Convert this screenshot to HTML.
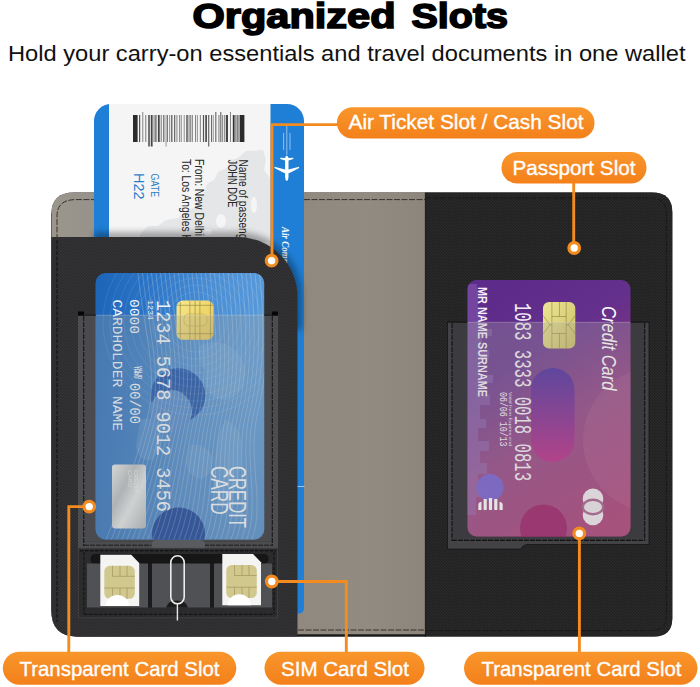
<!DOCTYPE html>
<html>
<head>
<meta charset="utf-8">
<title>Organized Slots</title>
<style>
html,body{margin:0;padding:0;background:#fff;}
body{width:700px;height:687px;overflow:hidden;position:relative;font-family:"Liberation Sans",sans-serif;}
svg{position:absolute;left:0;top:0;display:block;}
text{font-family:"Liberation Sans",sans-serif;}
.mono{font-family:"Liberation Mono",monospace;}
</style>
</head>
<body>
<svg width="700" height="687" viewBox="0 0 700 687">
<defs>
  <linearGradient id="gPill" x1="0" y1="0" x2="0" y2="1">
    <stop offset="0" stop-color="#f8962c"/><stop offset="1" stop-color="#f4801a"/>
  </linearGradient>
  <linearGradient id="gBlueCard" x1="0" y1="0" x2="1" y2="0.25">
    <stop offset="0" stop-color="#1c64b8"/><stop offset="0.3" stop-color="#2a74c6"/><stop offset="0.65" stop-color="#4a8ed4"/><stop offset="1" stop-color="#5a9cdc"/>
  </linearGradient>
  <linearGradient id="gBlueDark" x1="0" y1="0" x2="0" y2="1">
    <stop offset="0" stop-color="#1d55a0" stop-opacity="0"/><stop offset="0.4" stop-color="#1d55a0" stop-opacity="0.08"/><stop offset="1" stop-color="#1d55a0" stop-opacity="0.32"/>
  </linearGradient>
  <linearGradient id="gPurple" x1="0.3" y1="0" x2="0.7" y2="1">
    <stop offset="0" stop-color="#5d2b8a"/><stop offset="0.28" stop-color="#64308c"/><stop offset="0.6" stop-color="#8f367e"/><stop offset="1" stop-color="#a52e6e"/>
  </linearGradient>
  <linearGradient id="gPillShape" x1="0" y1="0" x2="0" y2="1">
    <stop offset="0" stop-color="#3f1f9c"/><stop offset="1" stop-color="#b81a80"/>
  </linearGradient>
  <linearGradient id="gChip" x1="0" y1="0" x2="1" y2="1">
    <stop offset="0" stop-color="#f7e78c"/><stop offset="0.5" stop-color="#efd76c"/><stop offset="1" stop-color="#e2c453"/>
  </linearGradient>
  <linearGradient id="gChip2" x1="0" y1="0" x2="1" y2="1">
    <stop offset="0" stop-color="#ece594"/><stop offset="0.5" stop-color="#ddd27c"/><stop offset="1" stop-color="#c9bb62"/>
  </linearGradient>
  <linearGradient id="gHolo" x1="0" y1="0" x2="1" y2="1">
    <stop offset="0" stop-color="#e9ebed"/><stop offset="0.35" stop-color="#b4b9bf"/><stop offset="0.6" stop-color="#e1e4e7"/><stop offset="1" stop-color="#a9afb6"/>
  </linearGradient>
  <linearGradient id="gShadow" x1="0" y1="0" x2="0" y2="1">
    <stop offset="0" stop-color="#000" stop-opacity="0"/><stop offset="1" stop-color="#000" stop-opacity="0.35"/>
  </linearGradient>
  <linearGradient id="gLining" x1="0" y1="0" x2="1" y2="0">
    <stop offset="0" stop-color="#9b968c"/><stop offset="0.12" stop-color="#97928a"/><stop offset="0.68" stop-color="#8f897f"/><stop offset="0.85" stop-color="#918b81"/><stop offset="1" stop-color="#8b857b"/>
  </linearGradient>
  <pattern id="saff" width="3" height="3" patternUnits="userSpaceOnUse">
    <rect width="3" height="3" fill="#252526"/>
    <path d="M-0.5 3.5 L3.5 -0.5" stroke="#303031" stroke-width="0.7"/>
    <path d="M-0.5 -0.5 L3.5 3.5" stroke="#1c1c1d" stroke-width="0.6"/>
  </pattern>
  <pattern id="saffL" width="3" height="3" patternUnits="userSpaceOnUse">
    <rect width="3" height="3" fill="#303032"/>
    <path d="M-0.5 3.5 L3.5 -0.5" stroke="#3a3a3c" stroke-width="0.7"/>
    <path d="M-0.5 -0.5 L3.5 3.5" stroke="#262628" stroke-width="0.6"/>
  </pattern>
  <clipPath id="clipWallet"><path d="M74 192.6 H652 Q672.3 192.6 672.3 212.6 V618 Q672.3 636.5 654 636.5 H77 Q51.3 636.5 51.3 610 V214.6 Q51.3 192.6 74 192.6 Z"/></clipPath>
  <clipPath id="clipBlue"><rect x="95.5" y="273" width="168.7" height="266.5" rx="10" ry="10"/></clipPath>
  <clipPath id="clipPurple"><rect x="467.5" y="280" width="163" height="256.5" rx="9" ry="9"/></clipPath>
  <filter id="blur3" x="-20%" y="-20%" width="140%" height="140%"><feGaussianBlur stdDeviation="3"/></filter>
  <filter id="blur1" x="-20%" y="-20%" width="140%" height="140%"><feGaussianBlur stdDeviation="1.2"/></filter>
</defs>
<g id="title">
  <g font-size="35" font-weight="bold" fill="#000" stroke="#000" stroke-width="1.6">
    <text x="192.5" y="28" textLength="203" lengthAdjust="spacingAndGlyphs">Organized</text>
    <text x="411.5" y="28" textLength="96.5" lengthAdjust="spacingAndGlyphs">Slots</text>
  </g>
  <text x="8" y="61" font-size="22.3" fill="#111" textLength="677.5" lengthAdjust="spacingAndGlyphs">Hold your carry-on essentials and travel documents in one wallet</text>
</g>
<g id="wallet">
  <path d="M74 192.6 H652 Q672.3 192.6 672.3 212.6 V618 Q672.3 636.5 654 636.5 H77 Q51.3 636.5 51.3 610 V214.6 Q51.3 192.6 74 192.6 Z" fill="#212122"/>
  <g clip-path="url(#clipWallet)">
    <rect x="52" y="192" width="373.5" height="442.5" fill="url(#gLining)"/>
    <rect x="425.5" y="192" width="250" height="450" fill="url(#saff)"/>
    <rect x="52" y="634.5" width="374" height="4" fill="#1a1b1d"/>
    <rect x="424.8" y="192" width="1.4" height="450" fill="#111" opacity="0.6"/>
  </g>
</g>
<g id="ticket">
  <path d="M111 104 H287 A17 17 0 0 1 304 121 V608 Q304 613.5 298 613.5 H94 V121 A17 17 0 0 1 111 104 Z" fill="#1f7fd6"/>
  <rect x="109" y="104" width="161.5" height="260" fill="#f5f5f6"/>
  <g fill="#e5e6e8">
    <path d="M263 150 L246 151 L238 158 L231 160 L227 168 L218 172 L214 180 L207 184 L204 193 L197 198 L195 207 L186 211 L178 218 L166 220 L158 226 L148 226 L141 233 L137 242 L270 242 L270 178 L264 170 L266 160 Z"/>
  </g>
  <g fill="#f5f5f6">
    <ellipse cx="221" cy="221" rx="5" ry="7"/><ellipse cx="254" cy="205" rx="3" ry="8"/><ellipse cx="208" cy="232" rx="4" ry="3"/>
  </g>
  <g><rect x="139.0" y="115.0" width="1.2" height="27.0" fill="#555"/><rect x="142.5" y="112.0" width="0.7" height="30.0" fill="#555"/><rect x="145.5" y="115.0" width="0.7" height="27.0" fill="#444"/><rect x="148.1" y="115.0" width="1.8" height="31.5" fill="#666"/><rect x="150.8" y="115.0" width="1.8" height="31.5" fill="#444"/><rect x="153.7" y="115.0" width="0.7" height="27.0" fill="#444"/><rect x="155.3" y="115.0" width="1.2" height="27.0" fill="#555"/><rect x="157.9" y="115.0" width="1.8" height="27.0" fill="#444"/><rect x="160.8" y="115.0" width="0.7" height="27.0" fill="#444"/><rect x="163.4" y="115.0" width="0.9" height="27.0" fill="#333"/><rect x="165.7" y="115.0" width="0.7" height="31.5" fill="#666"/><rect x="167.3" y="115.0" width="0.7" height="27.0" fill="#444"/><rect x="169.4" y="115.0" width="0.7" height="27.0" fill="#666"/><rect x="171.2" y="115.0" width="1.2" height="27.0" fill="#555"/><rect x="174.3" y="115.0" width="0.9" height="27.0" fill="#333"/><rect x="176.6" y="115.0" width="0.7" height="27.0" fill="#555"/><rect x="179.2" y="115.0" width="0.7" height="27.0" fill="#666"/><rect x="180.8" y="115.0" width="0.7" height="27.0" fill="#555"/><rect x="183.8" y="115.0" width="0.7" height="27.0" fill="#666"/><rect x="186.4" y="115.0" width="1.2" height="27.0" fill="#333"/><rect x="188.7" y="115.0" width="0.7" height="27.0" fill="#444"/><rect x="190.5" y="115.0" width="0.7" height="27.0" fill="#333"/><rect x="192.3" y="115.0" width="0.7" height="27.0" fill="#666"/><rect x="195.3" y="115.0" width="0.7" height="27.0" fill="#555"/><rect x="196.9" y="115.0" width="0.7" height="27.0" fill="#666"/><rect x="199.9" y="115.0" width="0.7" height="27.0" fill="#555"/><rect x="202.9" y="115.0" width="1.2" height="27.0" fill="#555"/><rect x="205.2" y="115.0" width="1.8" height="27.0" fill="#555"/><rect x="208.1" y="115.0" width="1.2" height="31.5" fill="#666"/><rect x="211.2" y="115.0" width="0.7" height="27.0" fill="#333"/><rect x="212.8" y="115.0" width="0.7" height="27.0" fill="#666"/><rect x="215.4" y="112.0" width="0.9" height="30.0" fill="#444"/><rect x="218.6" y="115.0" width="0.7" height="27.0" fill="#444"/><rect x="220.4" y="112.0" width="0.9" height="30.0" fill="#444"/><rect x="222.4" y="115.0" width="0.7" height="27.0" fill="#555"/><rect x="224.5" y="115.0" width="0.7" height="27.0" fill="#333"/><rect x="226.1" y="115.0" width="1.8" height="27.0" fill="#333"/><rect x="230.2" y="112.0" width="0.7" height="30.0" fill="#555"/><rect x="232.8" y="115.0" width="1.8" height="27.0" fill="#333"/><rect x="235.5" y="115.0" width="0.9" height="27.0" fill="#444"/><rect x="237.3" y="115.0" width="1.2" height="27.0" fill="#555"/><rect x="133" y="115" width="4.6" height="27" fill="#2b2b2b"/><rect x="239.6" y="115" width="4.8" height="27" fill="#2b2b2b"/></g>
  <g fill="#262626" font-size="13">
    <text transform="translate(239 159.5) rotate(90)" textLength="89" lengthAdjust="spacingAndGlyphs">Name of passenger</text>
    <text transform="translate(227.5 159.5) rotate(90)" textLength="48" lengthAdjust="spacingAndGlyphs">JOHN DOE</text>
    <text transform="translate(194.5 159) rotate(90)" textLength="77" lengthAdjust="spacingAndGlyphs">From: New Delhi</text>
    <text transform="translate(182.4 159) rotate(90)" textLength="83" lengthAdjust="spacingAndGlyphs">To: Los Angeles H</text>
  </g>
  <g fill="#2a7fc9">
    <text transform="translate(151 173.6) rotate(90)" font-size="10.8" textLength="23.5" lengthAdjust="spacingAndGlyphs">GATE</text>
    <text transform="translate(133.7 173) rotate(90)" font-size="15.5" textLength="26.5" lengthAdjust="spacingAndGlyphs">H22</text>
  </g>
  <g stroke="#d6e8fa" stroke-width="0.7" opacity="0.9">
    <line x1="283.6" y1="133" x2="283.6" y2="150"/><line x1="286.8" y1="126" x2="286.8" y2="155"/><line x1="290" y1="133" x2="290" y2="150"/>
  </g>
  <path d="M286.8 181 q-1.7 -1 -1.7 -4 v-3.8 l-3 -1.2 l-7.6 -4 v-1.2 l10.6 2.6 v-9 l-4.8 -1.4 v-1.2 l4.8 0.2 q0.6 -2.2 1.7 -2.2 q1.1 0 1.7 2.2 l4.8 -0.2 v1.2 l-4.8 1.4 v9 l10.6 -2.6 v1.2 l-7.6 4 l-3 1.2 v3.8 q0 3 -1.7 4z" fill="#fff"/>
  <text transform="translate(282 227) rotate(90)" font-size="11" font-style="italic" font-weight="bold" fill="#fff" textLength="50" style="font-family:'Liberation Serif',serif" lengthAdjust="spacingAndGlyphs">Air Company</text>
  <rect x="297" y="486" width="7.5" height="1" fill="#9cc8f0"/>
</g>
<g id="pocket" clip-path="url(#clipWallet)">
  <path d="M94 232 H237.5 A64 64 0 0 1 302 297 V330 H94 Z" fill="#000" opacity="0.32" filter="url(#blur3)"/>
  <path d="M50 237 H237.5 A60 60 0 0 1 297.5 297 V640 H50 Z" fill="url(#saffL)"/>
  <line x1="57" y1="240" x2="57" y2="622" stroke="#0b0b0c" stroke-width="0.9" stroke-dasharray="4 1.5"/>
  <rect x="84" y="315" width="188" height="226.5" fill="#4b4b4f"/>

  <g clip-path="url(#clipBlue)">
    <rect x="95" y="272" width="170" height="268" fill="url(#gBlueCard)"/>
    <rect x="95" y="272" width="170" height="268" fill="url(#gBlueDark)"/>
    <g fill="#9cc8ee" opacity="0.16">
      <path d="M200 345 q24 -8 38 8 q12 16 4 36 q-12 16 -28 8 q-12 -10 -8 -26 q-10 -10 -6 -26z"/>
      <path d="M226 420 q16 6 16 28 q0 30 -12 54 q-10 12 -14 -4 q-4 -24 0 -46 q2 -22 10 -32z"/>
      <path d="M140 420 q14 -6 20 8 q4 20 -8 32 q-14 2 -16 -14z"/>
      <path d="M190 445 q16 -2 22 12 q2 16 -10 22 q-14 -2 -16 -16z"/>
    </g>
    <circle cx="178" cy="395.5" r="27.3" fill="#0e49a8"/>
    <circle cx="171" cy="411" r="21" fill="#4582ca"/>
    <circle cx="178.5" cy="534" r="26.5" fill="#063694"/>
    <g fill="none" stroke="#ffffff" stroke-opacity="0.16" stroke-width="0.6"><circle cx="196" cy="322" r="30"/><circle cx="196" cy="322" r="37"/><circle cx="196" cy="322" r="44"/><circle cx="196" cy="322" r="51"/><circle cx="196" cy="322" r="58"/><circle cx="196" cy="322" r="65"/><circle cx="196" cy="322" r="72"/><circle cx="196" cy="322" r="79"/><circle cx="196" cy="322" r="86"/><circle cx="196" cy="322" r="93"/></g>
    <g fill="none" stroke="#ffffff" stroke-opacity="0.36" stroke-width="0.6"><path d="M138.0 273 C 144.0 330, 158.0 372, 148.0 415 S 120.0 505, 106.0 540"/><path d="M142.5 273 C 148.5 330, 161.9 372, 151.9 415 S 125.2 505, 111.2 540"/><path d="M147.0 273 C 153.0 330, 165.8 372, 155.8 415 S 130.4 505, 116.4 540"/><path d="M151.5 273 C 157.5 330, 169.7 372, 159.7 415 S 135.6 505, 121.6 540"/><path d="M156.0 273 C 162.0 330, 173.6 372, 163.6 415 S 140.8 505, 126.8 540"/><path d="M160.5 273 C 166.5 330, 177.5 372, 167.5 415 S 146.0 505, 132.0 540"/><path d="M165.0 273 C 171.0 330, 181.4 372, 171.4 415 S 151.2 505, 137.2 540"/><path d="M169.5 273 C 175.5 330, 185.3 372, 175.3 415 S 156.4 505, 142.4 540"/><path d="M174.0 273 C 180.0 330, 189.2 372, 179.2 415 S 161.6 505, 147.6 540"/><path d="M178.5 273 C 184.5 330, 193.1 372, 183.1 415 S 166.8 505, 152.8 540"/><path d="M183.0 273 C 189.0 330, 197.0 372, 187.0 415 S 172.0 505, 158.0 540"/><path d="M187.5 273 C 193.5 330, 200.9 372, 190.9 415 S 177.2 505, 163.2 540"/><path d="M192.0 273 C 198.0 330, 204.8 372, 194.8 415 S 182.4 505, 168.4 540"/><path d="M196.5 273 C 202.5 330, 208.7 372, 198.7 415 S 187.6 505, 173.6 540"/><path d="M201.0 273 C 207.0 330, 212.6 372, 202.6 415 S 192.8 505, 178.8 540"/><path d="M205.5 273 C 211.5 330, 216.5 372, 206.5 415 S 198.0 505, 184.0 540"/><path d="M210.0 273 C 216.0 330, 220.4 372, 210.4 415 S 203.2 505, 189.2 540"/><path d="M214.5 273 C 220.5 330, 224.3 372, 214.3 415 S 208.4 505, 194.4 540"/><path d="M219.0 273 C 225.0 330, 228.2 372, 218.2 415 S 213.6 505, 199.6 540"/><path d="M223.5 273 C 229.5 330, 232.1 372, 222.1 415 S 218.8 505, 204.8 540"/><path d="M228.0 273 C 234.0 330, 236.0 372, 226.0 415 S 224.0 505, 210.0 540"/><path d="M232.5 273 C 238.5 330, 239.9 372, 229.9 415 S 229.2 505, 215.2 540"/><path d="M237.0 273 C 243.0 330, 243.8 372, 233.8 415 S 234.4 505, 220.4 540"/><path d="M241.5 273 C 247.5 330, 247.7 372, 237.7 415 S 239.6 505, 225.6 540"/><path d="M246.0 273 C 252.0 330, 251.6 372, 241.6 415 S 244.8 505, 230.8 540"/><path d="M250.5 273 C 256.5 330, 255.5 372, 245.5 415 S 250.0 505, 236.0 540"/><path d="M255.0 273 C 261.0 330, 259.4 372, 249.4 415 S 255.2 505, 241.2 540"/><path d="M259.5 273 C 265.5 330, 263.3 372, 253.3 415 S 260.4 505, 246.4 540"/><path d="M264.0 273 C 270.0 330, 267.2 372, 257.2 415 S 265.6 505, 251.6 540"/></g>
  </g>
  <rect x="176.5" y="300.5" width="37" height="39.3" rx="6.5" fill="url(#gChip)"/>
  <g fill="none" stroke="#6e6430" stroke-width="0.6" opacity="0.8">
    <path d="M180.3 302 V338.5 M189.9 300.5 V339.8 M195.1 300.5 V339.8 M199.9 300.5 V339.8 M210.4 302 V338.5 M177 305.3 H213 M177 333.7 H213"/>
    <rect x="184" y="314" width="23" height="12" rx="4.5" stroke="#a89848"/>
  </g>
  <g fill="#eef3fa">
    <text class="mono" transform="translate(156.8 300) rotate(90)" font-size="19.5" textLength="212" lengthAdjust="spacingAndGlyphs">1234 5678 9012 3456</text>
    <text class="mono" transform="translate(148.4 300) rotate(90)" font-size="6.5" textLength="20" lengthAdjust="spacingAndGlyphs">1234</text>
    <text class="mono" transform="translate(129.5 299) rotate(90)" font-size="13.5" textLength="35" lengthAdjust="spacingAndGlyphs">0000</text>
    <text class="mono" transform="translate(129.5 383) rotate(90)" font-size="14" textLength="41" lengthAdjust="spacingAndGlyphs">00/00</text>
    <text class="mono" transform="translate(113 299.5) rotate(90)" font-size="13.5" textLength="131.5" lengthAdjust="spacingAndGlyphs">CARDHOLDER NAME</text>
  </g>
  <g fill="#eef3fa" font-size="4.5" font-weight="bold">
    <text transform="translate(138 366) rotate(90)">VALID</text>
    <text transform="translate(133.5 366) rotate(90)">THRU</text>
  </g>
  <rect x="112" y="464.5" width="34" height="64" rx="3" fill="url(#gHolo)"/>
  <g fill="#fff" opacity="0.6" font-size="6">
    <text transform="translate(134 470) rotate(90)">CREDIT</text>
    <text transform="translate(128 470) rotate(90)">CARD</text>
  </g>
  <g fill="#f0f5fb" font-size="23">
    <text transform="translate(228.7 466) rotate(90)" textLength="62" lengthAdjust="spacingAndGlyphs">CREDIT</text>
    <text transform="translate(211.4 466) rotate(90)" textLength="48.5" lengthAdjust="spacingAndGlyphs">CARD</text>
  </g>

  <!-- transparent slot -->
  <g clip-path="url(#clipBlue)"><rect x="84" y="315" width="188" height="226.5" fill="#a5a5a0" opacity="0.30"/></g>
  <path d="M78 315 H278 V548 H78 Z M84 315 V541.5 H272 V315 Z" fill="#4c4d4f" fill-rule="evenodd"/>
  <rect x="78" y="311.5" width="6" height="4" fill="#060607"/>
  <rect x="272" y="311.5" width="6" height="4" fill="#060607"/>
  <rect x="78" y="314.7" width="18" height="1" fill="#0b0b0c" opacity="0.8"/>
  <rect x="264" y="314.7" width="14" height="1" fill="#0b0b0c" opacity="0.8"/>
  <rect x="96" y="314.7" width="168" height="0.9" fill="#fff" opacity="0.22"/>
  <line x1="83.7" y1="316" x2="83.7" y2="546" stroke="#161617" stroke-width="1.1" stroke-dasharray="5 1"/>
  <line x1="272.3" y1="316" x2="272.3" y2="546" stroke="#161617" stroke-width="1.1" stroke-dasharray="5 1"/>
  <line x1="84" y1="545.2" x2="272" y2="545.2" stroke="#161617" stroke-width="0.9" stroke-dasharray="5 1"/>
  <g fill="#8a8b8e" opacity="0.6">
    <circle cx="80.7" cy="0" r="0"/>
  </g>
  <path d="M151.5 548 V545 Q151.5 540 157 540 H199 Q205 540 205 545 V548 Z" fill="#5a5b5f"/>

  <!-- SIM section -->
  <rect x="78" y="548" width="200" height="70" fill="#28282a" opacity="0.55"/>
  <rect x="78.5" y="548.3" width="199" height="69.5" fill="none" stroke="#404144" stroke-width="0.9"/>
  <line x1="80" y1="550.8" x2="276" y2="550.8" stroke="#09090a" stroke-width="0.9" stroke-dasharray="3.5 1.5"/>
  <line x1="84" y1="552" x2="84" y2="614" stroke="#0d0d0e" stroke-width="0.9" stroke-dasharray="3.5 1.5"/>
  <line x1="274" y1="552" x2="274" y2="614" stroke="#0d0d0e" stroke-width="0.9" stroke-dasharray="3.5 1.5"/>
  <line x1="84" y1="614.3" x2="274" y2="614.3" stroke="#0d0d0e" stroke-width="0.9" stroke-dasharray="3.5 1.5"/>
  <rect x="90.5" y="554" width="178" height="10" rx="4.5" fill="#161617"/>
  <g fill="#505154">
    <rect x="87" y="563.5" width="61" height="44"/>
    <rect x="152" y="563.5" width="58" height="44"/>
    <rect x="214" y="563.5" width="58" height="44"/>
  </g>
  <g fill="#1b1b1c">
    <rect x="148" y="563.5" width="4" height="44"/><rect x="210" y="563.5" width="4" height="44"/>
    <path d="M166 607.5 q2 -7 11 -7 q9 0 11 7z"/>
  </g>
  <path d="M100.3 554.8 H131.2 L139.2 563 V606 H100.3 Z" fill="#f4f4f2"/>
  <rect x="104.3" y="565.8" width="30.5" height="33" rx="5.5" fill="#d1c88e"/>
  <g stroke="#9a8e58" stroke-width="0.6" fill="none">
    <path d="M112.5 565.8 v10.5 h22.3 M120 565.8 v10.5 M127 565.8 v10.5 M104.3 588 h8.2 v10.8 M120 588 v10.8 M112.5 588 h22.3 M127 588 v10.8"/>
  </g>
  <path d="M105.7 606 a11.6 11 0 0 1 23.2 0z" fill="#fff"/>
  <path d="M222.3 554 H253 L261 562.2 V605.2 H222.3 Z" fill="#f4f4f2"/>
  <rect x="226.3" y="565" width="30.5" height="33" rx="5.5" fill="#d1c88e"/>
  <g stroke="#9a8e58" stroke-width="0.6" fill="none">
    <path d="M234.5 565 v10.5 h22.3 M242 565 v10.5 M249 565 v10.5 M226.3 587.2 h8.2 v10.8 M242 587.2 v10.8 M234.5 587.2 h22.3 M249 587.2 v10.8"/>
  </g>
  <path d="M227.7 605.2 a11.6 11 0 0 1 23.2 0z" fill="#fff"/>
  <path d="M177.4 604 V620.6" stroke="#e6e6e6" stroke-width="1.4" fill="none"/>
  <rect x="170.8" y="555.8" width="13.4" height="48" rx="6.7" fill="none" stroke="#ececec" stroke-width="1.6"/>
</g>
<g id="rightpanel" clip-path="url(#clipWallet)">
  <rect x="452" y="322" width="192.5" height="218" fill="#3c3c40"/>
  <g clip-path="url(#clipPurple)">
    <rect x="467" y="279" width="164" height="258" fill="url(#gPurple)"/>
    <circle cx="655" cy="440" r="72" fill="#d07aa6" opacity="0.16"/>
    <g fill="#8f66bd" opacity="0.45">
      <path d="M467 284 h10 v6 h6 v8 h-5 v10 h8 v9 h-6 v12 h12 v7 h-10 v14 h7 v9 h-9 v16 h13 v8 h-11 v12 h8 v10 h-10 v14 h6 v9 h-8 v13 h11 v10 h-9 v12 h7 v11 h-9 v14 h10 v9 h-12 v18 h-19 z"/>
    </g>
    <rect x="531" y="368" width="43.5" height="94" rx="21.7" fill="url(#gPillShape)"/>
    <circle cx="543.5" cy="528" r="23.5" fill="#940a5e"/>
    <circle cx="490" cy="487.5" r="13.5" fill="#6a52d4" opacity="0.95"/>
  </g>
  <g fill="#fff"><path d="M478.3 509.9 V504.7 Q478.3 502.2 481.5 501.7 V509.9 Z"/><rect x="483.6" y="498.9" width="3.2" height="11.0" rx="0.6"/><rect x="488.9" y="497.9" width="3.2" height="12.0" rx="0.6"/><rect x="494.2" y="498.9" width="3.2" height="11.0" rx="0.6"/><path d="M499.5 509.9 V501.7 Q502.7 502.2 502.7 504.7 V509.9 Z"/></g>
  <g>
    <circle cx="593" cy="498.9" r="10.3" fill="#f3eaf2"/>
    <circle cx="593" cy="515" r="10.3" fill="#f3eaf2"/>
    <ellipse cx="593" cy="507" rx="11.2" ry="8.4" fill="#a35389"/>
    <ellipse cx="593" cy="507" rx="9" ry="6" fill="#ece6ee"/>
  </g>
  <rect x="543" y="302" width="32.3" height="46.6" rx="6" fill="url(#gChip2)"/>
  <g fill="none" stroke="#7d7238" stroke-width="0.6" opacity="0.85">
    <path d="M551.9 302 V316.5 H566.2 V302 M559.5 302 V316.5 M551.9 348.6 V333.5 H566.2 V348.6 M559.5 348.6 V333.5 M551.9 316.5 V333.5 M566.2 316.5 V333.5 M543 315.5 L550 324.8 L543 334 M550 324.8 H551.9 M575.3 315.5 L568.3 324.8 L575.3 334 M568.3 324.8 H566.2"/>
  </g>
  <text transform="translate(602 306) rotate(90)" font-size="19.5" font-style="italic" fill="#fff" textLength="84.5" lengthAdjust="spacingAndGlyphs">Credit Card</text>
  <text class="mono" transform="translate(515 303) rotate(90)" font-size="23" fill="#f4eef8" textLength="178" lengthAdjust="spacingAndGlyphs">1083 3333 0018 0813</text>
  <text transform="translate(478 287) rotate(90)" font-size="12" font-weight="bold" fill="#f4eef8" textLength="110" lengthAdjust="spacingAndGlyphs">MR  NAME  SURNAME</text>
  <text class="mono" transform="translate(499.8 392) rotate(90)" font-size="10" fill="#f4eef8" textLength="54.5" lengthAdjust="spacingAndGlyphs">06/06  10/13</text>
  <text transform="translate(509 392) rotate(90)" font-size="3.8" fill="#f4eef8" textLength="54" lengthAdjust="spacingAndGlyphs">Valid from     Expires end</text>

  <path d="M447.5 322 H649 V544.5 H528 Q523 544.5 521 549 H447.5 Z M452 322 V540 H644.5 V322 Z" fill="#434345" fill-rule="evenodd"/>
  <g clip-path="url(#clipPurple)"><rect x="452" y="322" width="192.5" height="218" fill="#a5a5a0" opacity="0.30"/></g>
  <rect x="447.5" y="321.6" width="20" height="1.1" fill="#08080a" opacity="0.8"/>
  <rect x="630.5" y="321.6" width="18.5" height="1.1" fill="#08080a" opacity="0.8"/>
  <rect x="467.5" y="321.8" width="163" height="0.9" fill="#fff" opacity="0.22"/>
  <path d="M447.5 322 V549 H521 Q523 544.5 528 544.5 H649 V322" fill="none" stroke="#0e0e10" stroke-width="0.8" opacity="0.8"/>
  <line x1="452" y1="323" x2="452" y2="541" stroke="#121213" stroke-width="1.1" stroke-dasharray="5 1"/>
  <line x1="644.7" y1="323" x2="644.7" y2="541" stroke="#121213" stroke-width="1.1" stroke-dasharray="5 1"/>
  <line x1="452" y1="540.4" x2="644.7" y2="540.4" stroke="#121213" stroke-width="1.1" stroke-dasharray="5 1"/>
</g>
<g id="stitch" fill="none" stroke-width="1" stroke-dasharray="6 1.5" clip-path="url(#clipWallet)">
  <path d="M57 240 V216 Q57 199.6 76 199.6 H94" stroke="#35322d"/>
  <path d="M304 199.6 H425" stroke="#35322d"/>
  <path d="M425 198 H650 Q666.5 198 666.5 214 V615 Q666.5 630.5 652 630.5 H425" stroke="#0a0a0b" opacity="0.45"/>
  <path d="M298 630 H425" stroke="#35322d"/>
</g>
<g id="callouts">
  <g fill="none" stroke="#f28c20" stroke-width="2.9" stroke-linejoin="miter">
    <path d="M340 124.6 H272 V256"/>
    <path d="M573.7 182 V243"/>
    <path d="M84 506.6 H68.8 V653"/>
    <path d="M277 581.5 H346.3 V653"/>
    <path d="M579.4 538 V653"/>
  </g>
  <g fill="#fff" stroke="#f28c20" stroke-width="3.2">
    <circle cx="271.6" cy="260.7" r="5.3"/>
    <circle cx="574.2" cy="248" r="5.3"/>
    <circle cx="89.2" cy="506.6" r="5.3"/>
    <circle cx="271.8" cy="581.5" r="5.3"/>
    <circle cx="579.3" cy="533.4" r="5.3"/>
  </g>
  <g fill="url(#gPill)">
    <rect x="337" y="107.2" width="257.5" height="31.3" rx="15.6"/>
    <rect x="501.5" y="152" width="145" height="31.5" rx="15.7"/>
    <rect x="2.8" y="651.7" width="233.5" height="33" rx="16.5"/>
    <rect x="264.5" y="651.7" width="160" height="33" rx="16.5"/>
    <rect x="464" y="651.7" width="233.5" height="33" rx="16.5"/>
  </g>
  <g fill="#fff" font-size="20.2" stroke="#fff" stroke-width="0.35">
    <text x="348.5" y="129.3" textLength="235" lengthAdjust="spacingAndGlyphs">Air Ticket Slot / Cash Slot</text>
    <text x="512.5" y="175" textLength="123" lengthAdjust="spacingAndGlyphs">Passport Slot</text>
    <text x="19.5" y="675.6" textLength="200" lengthAdjust="spacingAndGlyphs">Transparent Card Slot</text>
    <text x="281" y="675.6" textLength="128" lengthAdjust="spacingAndGlyphs">SIM Card Slot</text>
    <text x="481.5" y="675.6" textLength="200" lengthAdjust="spacingAndGlyphs">Transparent Card Slot</text>
  </g>
</g>
</svg>
</body>
</html>
